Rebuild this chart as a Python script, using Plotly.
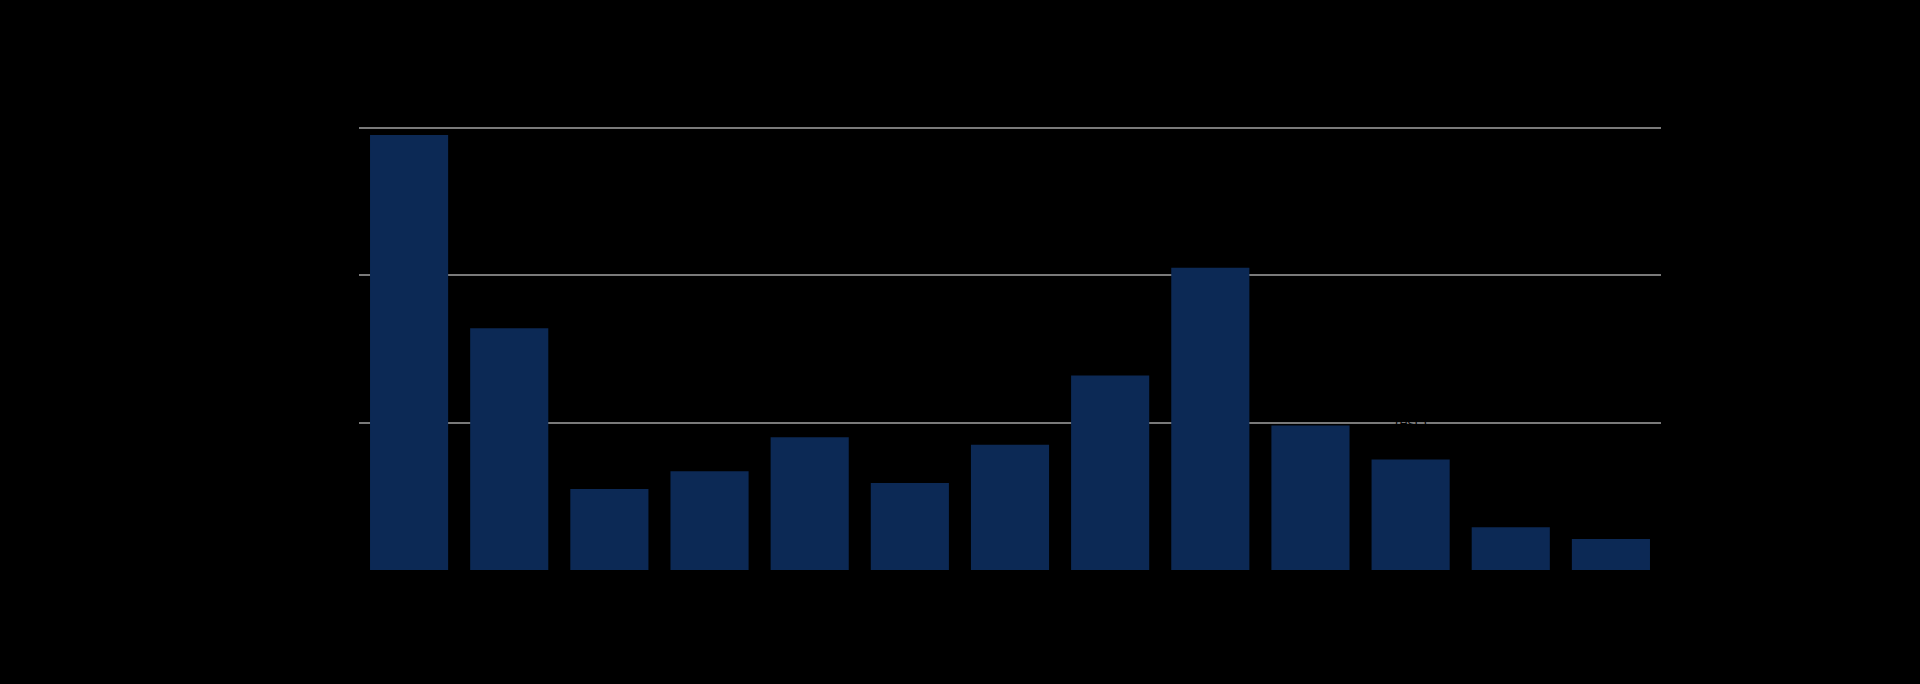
import plotly.graph_objects as go

categories = ["2010", "2011", "2012", "2013", "2014", "2015", "2016",
              "2017", "2018", "2019", "2020", "2021", "2022"]
values = [29.5, 16.4, 5.5, 6.7, 9.0, 5.9, 8.5, 13.2, 20.5, 9.8, 7.5, 2.9, 2.1]
y_ticks = [0, 10, 20, 30]
note_text = "(est.)"

BAR_COLOR = "#0c2955"
BG = "#000000"
TEXT = "#000000"

positions = list(range(len(categories)))

fig = go.Figure(
    go.Bar(
        x=positions,
        y=values,
        marker=dict(color=BAR_COLOR, line=dict(width=0)),
        showlegend=False,
    )
)

fig.add_annotation(
    x=positions[10], y=10, xref="x", yref="y",
    text=note_text, showarrow=False, yanchor="middle",
    font=dict(color=TEXT, size=14),
)

fig.update_layout(
    width=1920, height=684,
    paper_bgcolor=BG, plot_bgcolor=BG,
    margin=dict(l=359, r=259, t=113, b=114),
    bargap=0.22,
    font=dict(family="Liberation Sans, Arial, sans-serif", color=TEXT, size=14),
    xaxis=dict(
        range=[-0.5, len(categories) - 0.5],
        tickvals=positions, ticktext=categories,
        showgrid=False, zeroline=False, showline=False,
        tickfont=dict(color=TEXT),
    ),
    yaxis=dict(
        range=[0, 31], tickvals=y_ticks, showgrid=True,
        gridcolor="#7a7a7a", gridwidth=1.5, zeroline=False, showline=False,
        tickfont=dict(color=TEXT),
    ),
)

fig.write_html(
    "out.html",
    config={"displayModeBar": False},
    post_script="document.body.style.margin='0';document.body.style.background='#000';",
)
